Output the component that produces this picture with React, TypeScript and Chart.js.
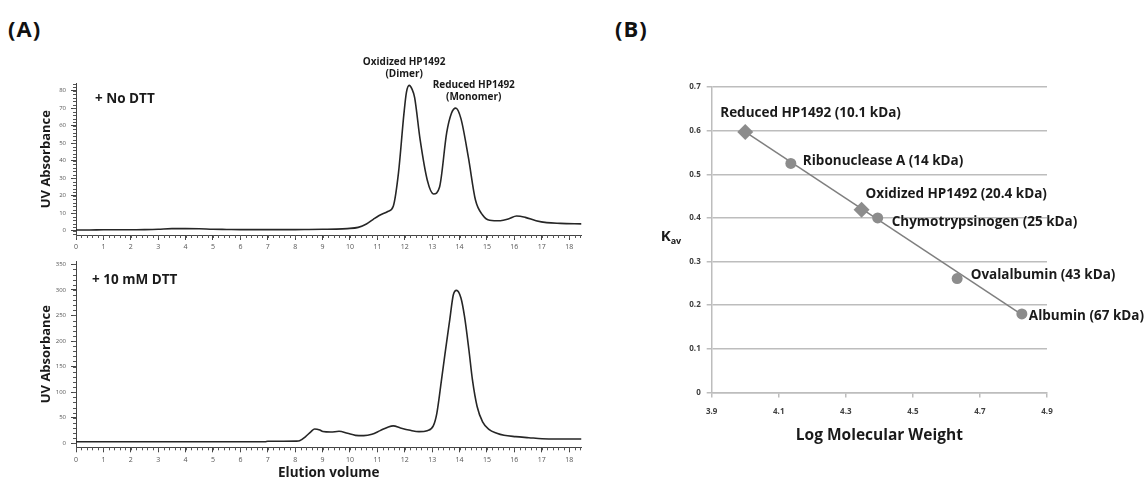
import React, { useEffect, useRef } from 'react';
import { Chart, registerables } from 'chart.js';

Chart.register(...registerables);

// ---------- Panel A : chromatograms ----------
const elutionNoDTT = [0, 0.5, 1, 1.5, 2, 2.5, 3, 3.5, 4, 4.5, 5, 5.5, 6, 6.5, 7, 7.5, 8, 8.5, 9, 9.5, 9.9, 10.3, 10.6, 10.85, 11.05, 11.38, 11.58, 11.77, 11.97, 12.06, 12.16, 12.26, 12.36, 12.56, 12.82, 13.05, 13.27, 13.53, 13.7, 13.86, 14.05, 14.32, 14.58, 14.84, 15.1, 15.49, 15.8, 16.08, 16.4, 16.79, 17.18, 17.68, 18.45];
const absNoDTT = [0.4, 0.4, 0.5, 0.5, 0.5, 0.6, 0.8, 1.2, 1.2, 1.1, 0.8, 0.7, 0.6, 0.6, 0.6, 0.6, 0.6, 0.7, 0.8, 0.9, 1.2, 1.9, 3.8, 6.5, 8.5, 11, 14, 33, 67, 79, 83, 81, 76, 52, 29, 21, 25, 56, 67, 70, 64, 42, 17.5, 9, 6, 5.7, 6.8, 8.4, 7.6, 5.7, 4.6, 4.2, 3.9];

const elutionDTT = [0, 6.9, 7.0, 8.05, 8.16, 8.38, 8.58, 8.71, 8.9, 9.01, 9.3, 9.6, 9.91, 10.2, 10.5, 10.8, 11.1, 11.4, 11.58, 11.84, 12.2, 12.52, 12.82, 13.04, 13.17, 13.34, 13.47, 13.64, 13.77, 13.89, 14.05, 14.18, 14.34, 14.47, 14.64, 14.84, 15.07, 15.36, 15.62, 16.05, 16.53, 17.01, 17.6, 18.45];
const absDTT = [3, 3, 4, 4.2, 5, 13, 23, 28, 26, 23, 22, 23.5, 19.5, 15.6, 15, 17.6, 24.8, 32, 34, 30, 25.4, 22.8, 24.8, 34, 58.7, 124, 176, 241, 290, 299, 284, 248, 183, 124, 72, 42, 27.4, 19.6, 15.6, 13, 11, 9, 8.5, 8.5];

const elutionTicks = [0, 1, 2, 3, 4, 5, 6, 7, 8, 9, 10, 11, 12, 13, 14, 15, 16, 17, 18];
const absTicksTop = [0, 10, 20, 30, 40, 50, 60, 70, 80];
const absTicksBottom = [0, 50, 100, 150, 200, 250, 300, 350];

const peakX = [12.16, 13.86];
const peakY = [83, 70];
const peakLines = [['Oxidized HP1492', '(Dimer)'], ['Reduced HP1492', '(Monomer)']];
const peakDx = [-5, 18];

// ---------- Panel B : calibration ----------
const hpLogMW = [4.0, 4.347];
const hpKav = [0.597, 0.419];
const hpNames = ['Reduced HP1492 (10.1 kDa)', 'Oxidized HP1492 (20.4 kDa)'];
const stdLogMW = [4.136, 4.395, 4.632, 4.825];
const stdKav = [0.525, 0.4, 0.261, 0.18];
const stdNames = ['Ribonuclease A (14 kDa)', 'Chymotrypsinogen (25 kDa)', 'Ovalalbumin (43 kDa)', 'Albumin (67 kDa)'];
const fitLogMW = [4.0, 4.826];
const fitKav = [0.597, 0.178];
const logMWTicks = [3.9, 4.1, 4.3, 4.5, 4.7, 4.9];
const kavTicks = [0, 0.1, 0.2, 0.3, 0.4, 0.5, 0.6, 0.7];

const hpOffsets = [[-25, -19], [4, -15]];
const stdOffsets = [[12, -2], [14, 4], [13.5, -3], [7, 2]];

const FONT = '"Open Sans", "Noto Sans", sans-serif';

const minorTicks = {
  id: 'minorTicks',
  afterDraw(chart: any, _a: any, opts: any) {
    if (!opts || !opts.xStep) return;
    const { ctx } = chart;
    const xs = chart.scales.x;
    const ys = chart.scales.y;
    ctx.save();
    ctx.strokeStyle = opts.color;
    ctx.lineWidth = 1;
    ctx.beginPath();
    for (let i = Math.ceil(xs.min / opts.xStep); i * opts.xStep <= xs.max + 1e-9; i++) {
      const px = Math.round(xs.getPixelForValue(i * opts.xStep)) + 0.5;
      ctx.moveTo(px, xs.top);
      ctx.lineTo(px, xs.top + 3);
    }
    for (let i = Math.ceil(ys.min / opts.yStep); i * opts.yStep <= ys.max + 1e-9; i++) {
      const py = Math.round(ys.getPixelForValue(i * opts.yStep)) + 0.5;
      ctx.moveTo(ys.right, py);
      ctx.lineTo(ys.right - 3, py);
    }
    ctx.stroke();
    ctx.restore();
  },
};

const panelText = {
  id: 'panelText',
  afterDraw(chart: any, _a: any, opts: any) {
    if (!opts) return;
    const { ctx, chartArea } = chart;
    const xs = chart.scales.x;
    const ys = chart.scales.y;
    ctx.save();
    ctx.fillStyle = '#1a1a1a';
    ctx.textBaseline = 'middle';
    if (opts.condition) {
      ctx.font = `bold 13.5px ${FONT}`;
      ctx.textAlign = 'left';
      ctx.fillText(opts.condition, chartArea.left + opts.condDx, chartArea.top + opts.condDy);
    }
    if (opts.peaks) {
      ctx.font = `bold 10px ${FONT}`;
      ctx.textAlign = 'center';
      peakX.forEach((x, i) => {
        const px = xs.getPixelForValue(x) + peakDx[i];
        const py = ys.getPixelForValue(peakY[i]);
        ctx.fillText(peakLines[i][0], px, py - 23);
        ctx.fillText(peakLines[i][1], px, py - 11);
      });
    }
    if (opts.calib) {
      ctx.font = `bold 13.5px ${FONT}`;
      ctx.textAlign = 'left';
      hpLogMW.forEach((x, i) => {
        ctx.fillText(hpNames[i], xs.getPixelForValue(x) + hpOffsets[i][0], ys.getPixelForValue(hpKav[i]) + hpOffsets[i][1]);
      });
      stdLogMW.forEach((x, i) => {
        ctx.fillText(stdNames[i], xs.getPixelForValue(x) + stdOffsets[i][0], ys.getPixelForValue(stdKav[i]) + stdOffsets[i][1]);
      });
      const kx = chartArea.left - 51;
      const ky = (chartArea.top + chartArea.bottom) / 2 - 3;
      ctx.font = `bold 15px ${FONT}`;
      ctx.fillText('K', kx, ky);
      const kw = ctx.measureText('K').width;
      ctx.font = `bold 9px ${FONT}`;
      ctx.fillText('av', kx + kw, ky + 5);
    }
    ctx.restore();
  },
};

Chart.register(minorTicks, panelText);

function chromatogramConfig(xs: number[], ys: number[], yTicks: number[], yMin: number, yMax: number, yStep: number, top: number, opts: any) {
  return {
    type: 'line',
    data: {
      datasets: [{
        data: xs.map((x, i) => ({ x, y: ys[i] })),
        borderColor: '#262626',
        borderWidth: 1.6,
        pointRadius: 0,
        cubicInterpolationMode: 'monotone',
        fill: false,
      }],
    },
    options: {
      responsive: false,
      animation: false,
      devicePixelRatio: 1,
      layout: { padding: { left: 0, top, right: 18.5, bottom: opts.padBottom } },
      plugins: {
        legend: { display: false },
        tooltip: { enabled: false },
        minorTicks: { xStep: 0.2, yStep, color: '#555' },
        panelText: opts.text,
      },
      scales: {
        x: {
          type: 'linear',
          min: 0,
          max: 18.45,
          afterBuildTicks: (s: any) => { s.ticks = elutionTicks.map((v) => ({ value: v })); },
          afterFit: (s: any) => { s.height = opts.xHeight; },
          grid: { display: true, drawOnChartArea: false, drawTicks: true, tickLength: 5, color: '#444' },
          border: { display: true, color: '#444', width: 1 },
          ticks: { font: { size: 7, family: FONT }, color: '#555', padding: 3, maxRotation: 0, autoSkip: false },
          title: opts.xTitle
            ? { display: true, text: opts.xTitle, color: '#1a1a1a', font: { size: 13.5, weight: 'bold', family: FONT }, padding: { top: 0, bottom: opts.xTitlePad } }
            : { display: false },
        },
        y: {
          type: 'linear',
          min: yMin,
          max: yMax,
          afterBuildTicks: (s: any) => { s.ticks = yTicks.map((v) => ({ value: v })); },
          afterFit: (s: any) => { s.width = 76; },
          grid: { display: true, drawOnChartArea: false, drawTicks: true, tickLength: 5, color: '#444' },
          border: { display: true, color: '#444', width: 1 },
          ticks: { font: { size: 6, family: FONT }, color: '#555', padding: 5, autoSkip: false },
          title: { display: true, text: 'UV Absorbance', color: '#1a1a1a', font: { size: 13, weight: 'bold', family: FONT }, padding: { top: 38, bottom: 0 } },
        },
      },
    },
  };
}

function calibConfig() {
  return {
    type: 'scatter',
    data: {
      datasets: [
        {
          type: 'line',
          data: fitLogMW.map((x, i) => ({ x, y: fitKav[i] })),
          borderColor: '#7f7f7f',
          borderWidth: 1.5,
          pointRadius: 0,
          showLine: true,
          fill: false,
          order: 3,
        },
        {
          data: stdLogMW.map((x, i) => ({ x, y: stdKav[i] })),
          pointStyle: 'circle',
          pointRadius: 5.5,
          backgroundColor: '#8c8c8c',
          borderColor: '#8c8c8c',
          borderWidth: 0,
          order: 2,
        },
        {
          data: hpLogMW.map((x, i) => ({ x, y: hpKav[i] })),
          pointStyle: 'rectRot',
          pointRadius: 8,
          backgroundColor: '#8c8c8c',
          borderColor: '#8c8c8c',
          borderWidth: 0,
          order: 1,
        },
      ],
    },
    options: {
      responsive: false,
      animation: false,
      devicePixelRatio: 1,
      layout: { padding: { left: 91.7, top: 87, right: 100, bottom: 15.5 } },
      plugins: {
        legend: { display: false },
        tooltip: { enabled: false },
        panelText: { calib: true },
      },
      scales: {
        x: {
          type: 'linear',
          min: 3.9,
          max: 4.9,
          afterBuildTicks: (s: any) => { s.ticks = logMWTicks.map((v) => ({ value: v })); },
          afterFit: (s: any) => { s.height = 70; },
          grid: { display: true, drawOnChartArea: false, drawTicks: true, tickLength: 5, color: '#bdbdbd', lineWidth: 1.5 },
          border: { display: true, color: '#bdbdbd', width: 1.5 },
          ticks: { font: { size: 8, weight: 'bold', family: FONT }, color: '#404040', padding: 9, maxRotation: 0, autoSkip: false, callback: (v: number) => v.toFixed(1) },
          title: { display: true, text: 'Log Molecular Weight', color: '#1a1a1a', font: { size: 15.5, weight: 'bold', family: FONT }, padding: { top: 0, bottom: 18 } },
        },
        y: {
          type: 'linear',
          min: 0,
          max: 0.7,
          afterBuildTicks: (s: any) => { s.ticks = kavTicks.map((v) => ({ value: v })); },
          afterFit: (s: any) => { s.width = 30; },
          grid: { display: true, drawOnChartArea: true, drawTicks: true, tickLength: 5, color: '#bdbdbd', lineWidth: 1.5 },
          border: { display: true, color: '#bdbdbd', width: 1.5 },
          ticks: { font: { size: 8, weight: 'bold', family: FONT }, color: '#404040', padding: 6, autoSkip: false, callback: (v: number) => (v === 0 ? '0' : v.toFixed(1)) },
        },
      },
    },
  };
}

function ChartCanvas({ config, left, top, width, height }: any) {
  const ref = useRef<HTMLCanvasElement | null>(null);
  useEffect(() => {
    if (!ref.current) return;
    const chart = new Chart(ref.current, config());
    return () => chart.destroy();
  }, []);
  return (
    <canvas
      ref={ref}
      width={width}
      height={height}
      style={{ position: 'absolute', left, top, width, height }}
    />
  );
}

export default function App() {
  return (
    <div style={{ position: 'absolute', left: 0, top: 0, width: 1147, height: 478, overflow: 'hidden', background: '#fff' }}>
      <div style={{ position: 'absolute', left: 8, top: 12, font: `bold 22px ${FONT}`, lineHeight: '32px', letterSpacing: '1px', color: '#111' }}>(A)</div>
      <div style={{ position: 'absolute', left: 615, top: 12, font: `bold 22px ${FONT}`, lineHeight: '32px', letterSpacing: '1px', color: '#111' }}>(B)</div>
      <ChartCanvas
        left={0}
        top={0}
        width={600}
        height={252}
        config={() => chromatogramConfig(elutionNoDTT, absNoDTT, absTicksTop, -2.46, 84.2, 2, 83.3,
          { padBottom: 0, xHeight: 17, text: { condition: '+ No DTT', condDx: 19, condDy: 16, peaks: true } })}
      />
      <ChartCanvas
        left={0}
        top={252}
        width={600}
        height={240}
        config={() => chromatogramConfig(elutionDTT, absDTT, absTicksBottom, -7.8, 356.5, 10, 9,
          { padBottom: 4.7, xHeight: 40, xTitle: 'Elution volume', xTitlePad: 6.2, text: { condition: '+ 10 mM DTT', condDx: 16, condDy: 19 } })}
      />
      <ChartCanvas left={590} top={0} width={557} height={478} config={calibConfig} />
    </div>
  );
}
